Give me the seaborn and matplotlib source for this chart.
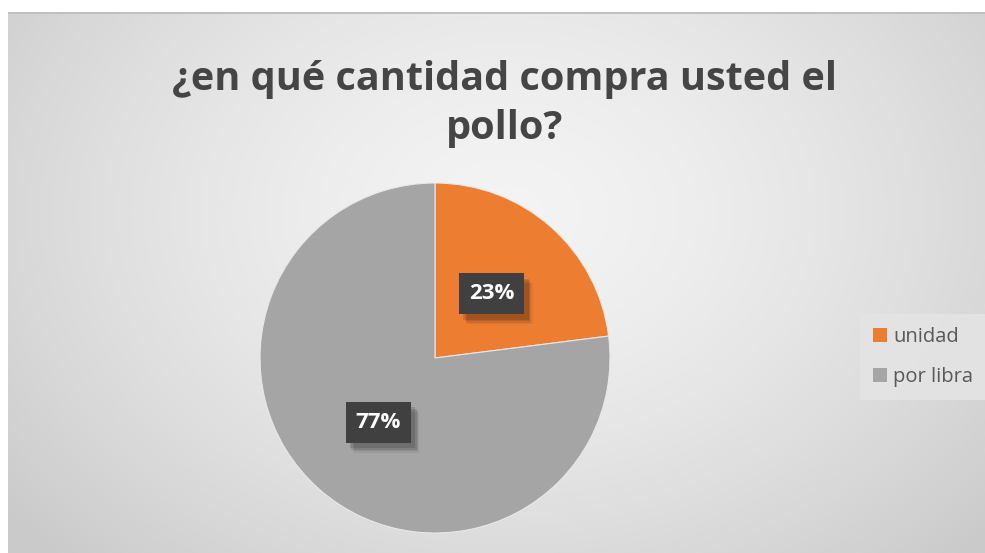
import numpy as np
import matplotlib
matplotlib.use("Agg")
import matplotlib.pyplot as plt
import matplotlib.patheffects as pe
from matplotlib.patches import Rectangle
import seaborn as sns

sns.set_theme(style="white")
plt.rcParams["font.family"] = ["Open Sans", "DejaVu Sans"]

# Survey answers
categories = ["unidad", "por libra"]
shares = [23, 77]
colors = ["#ED7D31", "#A5A5A5"]
title = "¿en qué cantidad compra usted el\npollo?"

W, H = 985, 553
fig = plt.figure(figsize=(W / 100, H / 100), dpi=100)
fig.patch.set_facecolor("white")

# Chart area with soft radial grey gradient
x0, y0 = 8, 12
bg = fig.add_axes([x0 / W, 0, (W - x0) / W, (H - y0) / H])
bg.set_axis_off()
yy, xx = np.mgrid[0:H - y0, 0:W - x0]
cx, cy = 500, 200
d = np.sqrt(((xx - cx) / 640.0) ** 2 + ((yy - cy) / 480.0) ** 2)
d = np.clip(d, 0, 1)
shade = 0.955 - 0.16 * d ** 1.5
img = np.dstack([shade, shade, shade])
bg.imshow(img, aspect="auto", extent=[0, 1, 0, 1], origin="upper")
bg.set_xlim(0, 1)
bg.set_ylim(0, 1)
bg.add_patch(Rectangle((0, 0.996), 1, 0.004, color="#c0c0c0", lw=0))

# Title
fig.text(505 / W, 1 - 104 / H, title, ha="center", va="center",
         fontsize=28.5, fontweight="bold", color="#454545", linespacing=1.32)

# Pie
pcx, pcy, r = 435, 358, 175
ax = fig.add_axes([(pcx - r) / W, (H - pcy - r) / H, 2 * r / W, 2 * r / H])
ax.set_axis_off()
wedges, texts, autotexts = ax.pie(
    shares, colors=colors, startangle=90, counterclock=False,
    radius=1, autopct="%d%%", pctdistance=0.49,
    wedgeprops=dict(linewidth=0.8, edgecolor="#e8e8e8"),
    textprops=dict(color="white", fontsize=16, fontweight="bold"))
ax.set_xlim(-1, 1)
ax.set_ylim(-1, 1)
shadow = [pe.SimplePatchShadow(offset=(o, -o - 1), shadow_rgbFace="black", alpha=a)
          for o, a in [(6, 0.06), (5, 0.08), (4, 0.1), (3, 0.12)]]
for t in autotexts:
    t.set_bbox(dict(boxstyle="square,pad=0.45", facecolor="#404040",
                    edgecolor="none"))
    t.get_bbox_patch().set_path_effects(shadow + [pe.Normal()])

# Legend
handles = [Rectangle((0, 0), 1, 1, facecolor=c, edgecolor="none") for c in colors]
leg = fig.legend(handles, categories, loc="center left",
                 bbox_to_anchor=(860 / W, 1 - 357 / H), frameon=True,
                 fontsize=14.5, handlelength=0.7, handleheight=0.7,
                 handletextpad=0.3, labelspacing=1.0, borderpad=0.65,
                 borderaxespad=0, labelcolor="#595959")
leg.get_frame().set_facecolor("#e4e4e4")
leg.get_frame().set_edgecolor("none")
leg.get_frame().set_alpha(0.9)
leg.get_frame().set_boxstyle("square", pad=0)

fig.savefig("out.png", dpi=100)
